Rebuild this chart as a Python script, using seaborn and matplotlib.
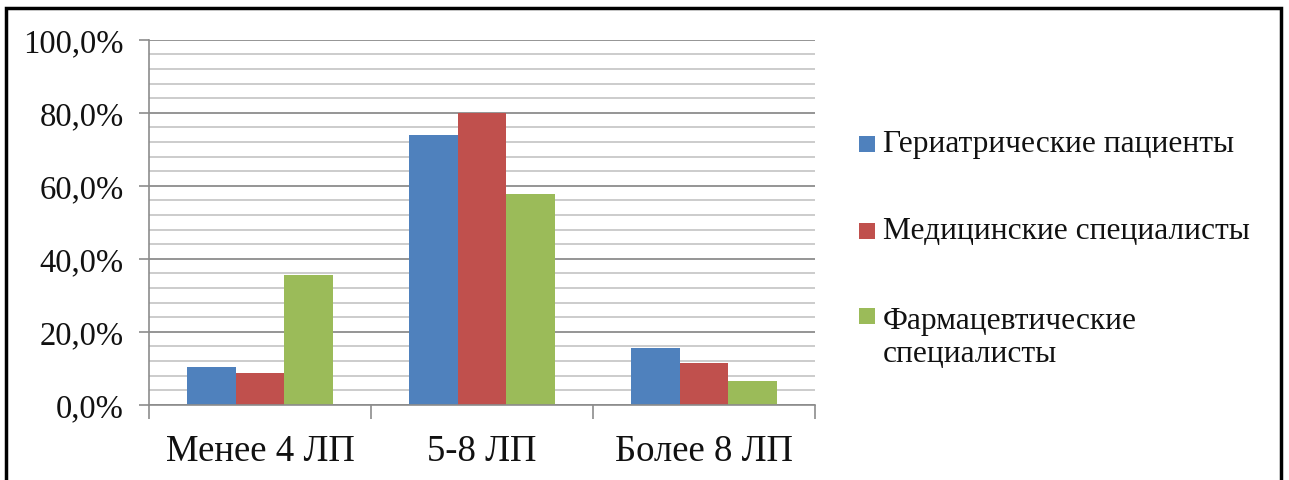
import numpy as np
import pandas as pd
import matplotlib
matplotlib.use("Agg")
import matplotlib.pyplot as plt
from matplotlib.patches import Rectangle
from matplotlib.ticker import MultipleLocator, FixedLocator
import seaborn as sns

# Number of medicines taken (ЛП), share of respondents per group, %
categories = ["Менее 4 ЛП", "5-8 ЛП", "Более 8 ЛП"]
groups = ["Гериатрические пациенты", "Медицинские специалисты", "Фармацевтические\nспециалисты"]
geriatric = [10.3, 74.0, 15.5]
medical = [8.8, 79.8, 11.3]
pharma = [35.4, 57.8, 6.4]
y_ticks = [0, 20, 40, 60, 80, 100]
y_tick_labels = ["0,0%", "20,0%", "40,0%", "60,0%", "80,0%", "100,0%"]
colors = ["#4F81BD", "#C0504D", "#9BBB59"]

df = pd.DataFrame({
    "category": categories * 3,
    "group": [groups[0]] * 3 + [groups[1]] * 3 + [groups[2]] * 3,
    "value": geriatric + medical + pharma,
})

sns.set_theme(style="white")
plt.rcParams["font.family"] = ["Liberation Serif", "DejaVu Serif"]

fig = plt.figure(figsize=(12.89, 4.81), dpi=100)
W, H = 1289, 481
ax = fig.add_axes([149 / W, 1 - 405.7 / H, (815 - 149) / W, 365 / H])

sns.barplot(data=df, x="category", y="value", hue="group",
            order=categories, hue_order=groups, palette=colors,
            width=0.66, saturation=1, legend=False, ax=ax,
            edgecolor="none", linewidth=0)

ax.set_xlim(-0.5, 2.5)
ax.set_ylim(0, 100)
ax.set_xlabel("")
ax.set_ylabel("")

# gridlines: major every 20 %, minor every 4 %
ax.yaxis.set_major_locator(FixedLocator(y_ticks))
ax.set_yticklabels(y_tick_labels)
ax.yaxis.set_minor_locator(MultipleLocator(4))
ax.grid(axis="y", which="major", color="#8c8c8c", linewidth=1.3)
ax.grid(axis="y", which="minor", color="#c4c4c4", linewidth=1.2)
ax.set_axisbelow(True)

# category ticks between groups, labels centred on groups
ax.set_xticks([-0.5, 0.5, 1.5, 2.5])
ax.set_xticklabels([])
ax.set_xticks([0, 1, 2], minor=True)
ax.set_xticklabels(categories, minor=True)
ax.tick_params(axis="x", which="major", direction="out", length=10, width=1.2,
               color="#8c8c8c", bottom=True)
ax.tick_params(axis="x", which="minor", length=0, pad=21, labelsize=26.5,
               labelcolor="#111111")
ax.tick_params(axis="y", which="major", direction="out", length=7, width=1.2,
               color="#8c8c8c", left=True, pad=11, labelsize=23.5,
               labelcolor="#111111")
ax.tick_params(axis="y", which="minor", length=0)

for side in ["top", "right"]:
    ax.spines[side].set_visible(False)
for side in ["left", "bottom"]:
    ax.spines[side].set_color("#8c8c8c")
    ax.spines[side].set_linewidth(1.2)

# legend on the right: marker square beside the first line of each label
marker_rows = [145, 232, 317]
text_rows = [145, 232, 338]
for color, label, ym, yt in zip(colors, groups, marker_rows, text_rows):
    fig.add_artist(Rectangle((859 / W, 1 - (ym + 8) / H), 16 / W, 16 / H,
                             transform=fig.transFigure, facecolor=color,
                             edgecolor="none"))
    fig.text(883 / W, 1 - yt / H, label, transform=fig.transFigure,
             fontsize=22.7, va="center", ha="left", color="#111111",
             linespacing=1.22)

# outer frame of the chart area
fig.add_artist(Rectangle((6 / W, -0.05), (1281 - 6) / W, 1.05 - 9 / H,
                         transform=fig.transFigure, fill=False,
                         edgecolor="black", linewidth=2.5, clip_on=False))

fig.savefig("out.png", dpi=100, facecolor="white")
